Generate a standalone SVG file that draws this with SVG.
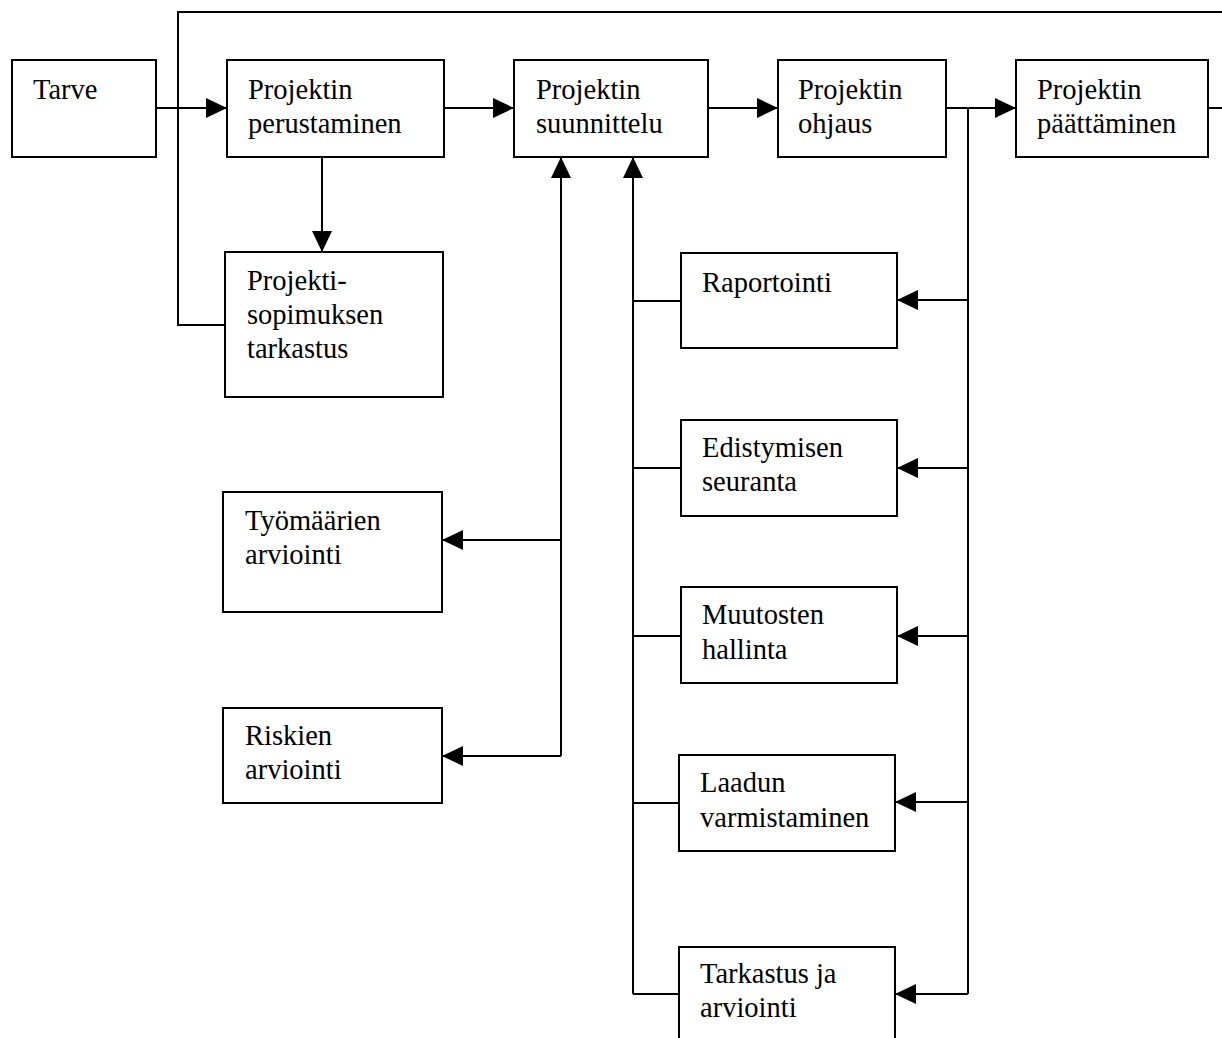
<svg xmlns="http://www.w3.org/2000/svg" width="1222" height="1038" viewBox="0 0 1222 1038">
  <style>
    .box rect { fill: #fff; stroke: #000; stroke-width: 2; }
    .box text { font-family: "Liberation Serif", "Times New Roman", serif; font-size: 28.5px; fill: #000; }
    .wire { fill: none; stroke: #000; stroke-width: 2; }
    .arrow { marker-end: url(#head); }
  </style>
  <defs>
    <marker id="head" markerUnits="userSpaceOnUse" markerWidth="22" markerHeight="22" refX="21" refY="10" orient="auto">
      <path d="M0,0 L21,10 L0,20 Z" fill="#000"/>
    </marker>
  </defs>
  <rect width="1222" height="1038" fill="#fff"/>

  <!-- connectors -->
  <g id="connectors">
    <!-- feedback loop across the top -->
    <path class="wire" d="M1222,12 H178 V325 H225"/>
    <path class="wire" d="M1208,108 H1222"/>
    <!-- main chain -->
    <path class="wire arrow" d="M156,108 H227"/>
    <path class="wire arrow" d="M444,108 H514"/>
    <path class="wire arrow" d="M708,108 H778"/>
    <path class="wire arrow" d="M946,108 H1016"/>
    <!-- founding to contract review -->
    <path class="wire arrow" d="M322,157 V252"/>
    <!-- planning feeds estimates -->
    <path class="wire arrow" d="M561,756 V157"/>
    <path class="wire arrow" d="M561,540 H442"/>
    <path class="wire arrow" d="M561,756 H442"/>
    <!-- control outputs returned to planning -->
    <path class="wire arrow" d="M633,994 V157"/>
    <path class="wire" d="M633,301 H681"/>
    <path class="wire" d="M633,468 H681"/>
    <path class="wire" d="M633,636 H681"/>
    <path class="wire" d="M633,803 H679"/>
    <path class="wire" d="M633,994 H679"/>
    <!-- control branch to sub-tasks -->
    <path class="wire" d="M968,108 V994"/>
    <path class="wire arrow" d="M968,300 H897"/>
    <path class="wire arrow" d="M968,468 H897"/>
    <path class="wire arrow" d="M968,636 H897"/>
    <path class="wire arrow" d="M968,802 H895"/>
    <path class="wire arrow" d="M968,994 H895"/>
  </g>

  <g id="tarve" class="box">
    <rect x="12" y="60" width="144" height="97"/>
    <text x="33" y="99">Tarve</text>
  </g>
  <g id="perustaminen" class="box">
    <rect x="227" y="60" width="217" height="97"/>
    <text x="248" y="99">Projektin</text>
    <text x="248" y="133">perustaminen</text>
  </g>
  <g id="suunnittelu" class="box">
    <rect x="514" y="60" width="194" height="97"/>
    <text x="536" y="99">Projektin</text>
    <text x="536" y="133">suunnittelu</text>
  </g>
  <g id="ohjaus" class="box">
    <rect x="778" y="60" width="168" height="97"/>
    <text x="798" y="99">Projektin</text>
    <text x="798" y="133">ohjaus</text>
  </g>
  <g id="paattaminen" class="box">
    <rect x="1016" y="60" width="192" height="97"/>
    <text x="1037" y="99">Projektin</text>
    <text x="1037" y="133">päättäminen</text>
  </g>
  <g id="sopimus" class="box">
    <rect x="225" y="252" width="218" height="145"/>
    <text x="247" y="290">Projekti-</text>
    <text x="247" y="324">sopimuksen</text>
    <text x="247" y="358">tarkastus</text>
  </g>
  <g id="tyomaarat" class="box">
    <rect x="223" y="492" width="219" height="120"/>
    <text x="245" y="530">Työmäärien</text>
    <text x="245" y="564">arviointi</text>
  </g>
  <g id="riskit" class="box">
    <rect x="223" y="708" width="219" height="95"/>
    <text x="245" y="745">Riskien</text>
    <text x="245" y="779">arviointi</text>
  </g>
  <g id="raportointi" class="box">
    <rect x="681" y="253" width="216" height="95"/>
    <text x="702" y="292">Raportointi</text>
  </g>
  <g id="edistyminen" class="box">
    <rect x="681" y="420" width="216" height="96"/>
    <text x="702" y="457">Edistymisen</text>
    <text x="702" y="491">seuranta</text>
  </g>
  <g id="muutokset" class="box">
    <rect x="681" y="587" width="216" height="96"/>
    <text x="702" y="624">Muutosten</text>
    <text x="702" y="659">hallinta</text>
  </g>
  <g id="laatu" class="box">
    <rect x="679" y="755" width="216" height="96"/>
    <text x="700" y="792">Laadun</text>
    <text x="700" y="827">varmistaminen</text>
  </g>
  <g id="tarkastus" class="box">
    <rect x="679" y="947" width="216" height="100"/>
    <text x="700" y="983">Tarkastus ja</text>
    <text x="700" y="1017">arviointi</text>
  </g>
</svg>
